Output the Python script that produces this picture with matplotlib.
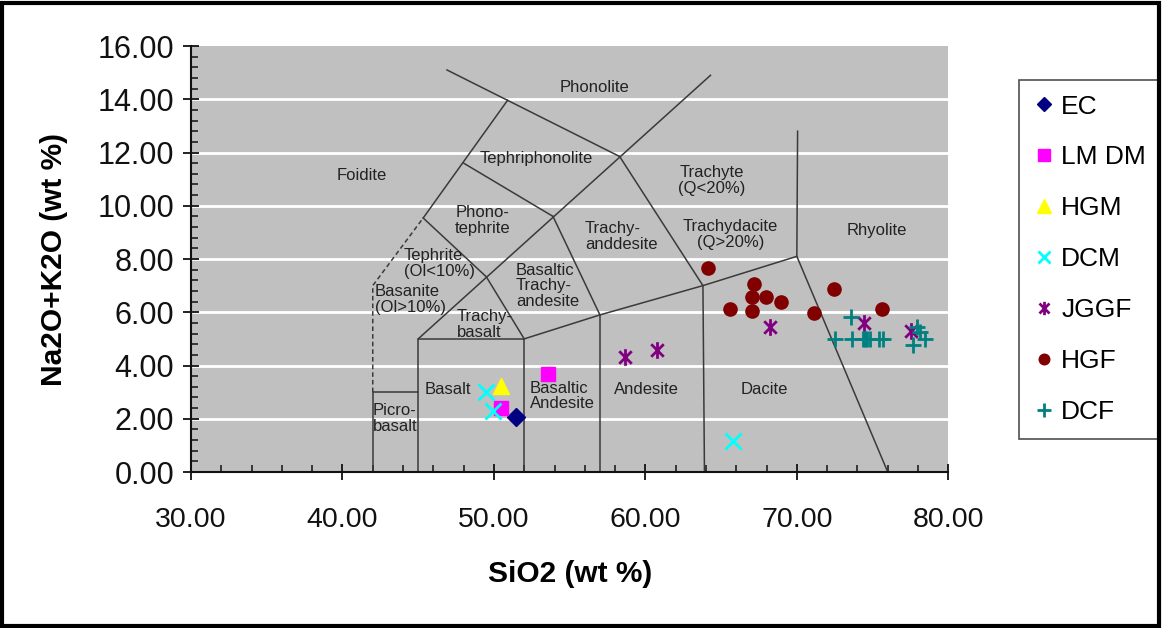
import matplotlib
matplotlib.use("Agg")
import matplotlib.pyplot as plt
from matplotlib.path import Path
from matplotlib.patches import Rectangle
from matplotlib.ticker import MultipleLocator, FormatStrFormatter

plt.rcParams['font.family'] = ['Liberation Sans', 'DejaVu Sans']

# ---------------- data ----------------
ec_x = [51.45]
ec_y = [2.08]
lmdm_x = [50.5, 53.55]
lmdm_y = [2.4, 3.68]
hgm_x = [50.45]
hgm_y = [3.22]
dcm_x = [49.5, 49.95, 65.8]
dcm_y = [3.0, 2.3, 1.18]
jggf_x = [58.65, 60.77, 68.23, 74.45, 77.55]
jggf_y = [4.32, 4.59, 5.46, 5.61, 5.30]
hgf_x = [64.15, 67.17, 67.02, 67.96, 68.93, 65.59, 67.02, 72.43, 71.15, 75.65]
hgf_y = [7.67, 7.07, 6.59, 6.59, 6.40, 6.12, 6.03, 6.87, 5.97, 6.12]
dcf_x = [73.6, 72.52, 73.62, 74.35, 74.5, 74.64, 74.84, 75.44, 75.71, 77.95, 78.13, 77.69, 78.46]
dcf_y = [5.83, 5.0, 5.0, 5.0, 5.0, 5.0, 5.0, 5.0, 5.0, 5.44, 5.27, 4.77, 4.99]

# TAS field boundaries
solid_lines = [
    [(42, 0), (42, 3), (45, 3)],
    [(45, 0), (45, 5), (52, 5), (52, 0)],
    [(57, 0), (57, 5.9)],
    [(63.9, 0), (63.8, 7.0)],
    [(52, 5), (57, 5.9), (63.8, 7.0), (70, 8.1), (76, 0)],
    [(70, 8.1), (70.05, 12.8)],
    [(45, 5), (64.3, 14.9)],
    [(46.9, 15.1), (58.3, 11.85)],
    [(50.9, 13.96), (45.33, 9.54)],
    [(48, 11.6), (53.9, 9.6)],
    [(45.33, 9.54), (49.5, 7.33), (52, 5)],
    [(53.9, 9.6), (57, 5.9)],
    [(58.3, 11.85), (63.8, 7.0)],
]
dashed_lines = [
    [(42, 3), (42, 7), (45.33, 9.54)],
]

field_labels = [
    ("Phonolite", 56.61, 14.44, 'center'),
    ("Tephriphonolite", 52.82, 11.77, 'center'),
    ("Foidite", 41.29, 11.13, 'center'),
    ("Phono-\ntephrite", 49.28, 9.44, 'center'),
    ("Tephrite\n(Ol<10%)", 44.06, 7.82, 'left'),
    ("Basanite\n(Ol>10%)", 42.15, 6.47, 'left'),
    ("Trachy-\nbasalt", 47.54, 5.55, 'left'),
    ("Basaltic\nTrachy-\nandesite", 51.46, 6.99, 'left'),
    ("Trachy-\nanddesite", 56.01, 8.84, 'left'),
    ("Trachyte\n(Q<20%)", 64.40, 10.95, 'center'),
    ("Trachydacite\n(Q>20%)", 65.63, 8.92, 'center'),
    ("Rhyolite", 75.27, 9.06, 'center'),
    ("Basalt", 46.94, 3.11, 'center'),
    ("Picro-\nbasalt", 42.0, 2.0, 'left'),
    ("Basaltic\nAndesite", 52.38, 2.85, 'left'),
    ("Andesite", 60.04, 3.08, 'center'),
    ("Dacite", 67.88, 3.08, 'center'),
]

x_ticks = [30, 40, 50, 60, 70, 80]
y_ticks = [0, 2, 4, 6, 8, 10, 12, 14, 16]

# ---------------- figure ----------------
fig = plt.figure(figsize=(11.64, 6.28), dpi=100)
fig.patch.set_facecolor('white')
ax = fig.add_axes([191 / 1164, 1 - 472 / 628, (948.3 - 191) / 1164, (472 - 46) / 628])
ax.set_facecolor('#C0C0C0')
ax.set_xlim(30, 80)
ax.set_ylim(0, 16)

for yv in y_ticks[1:-1]:
    ax.axhline(yv, color='white', lw=2.0, zorder=1)

line_col = '#3a3a3a'
for seg in solid_lines:
    xs, ys = zip(*seg)
    ax.plot(xs, ys, color=line_col, lw=1.1, zorder=2)
for seg in dashed_lines:
    xs, ys = zip(*seg)
    ax.plot(xs, ys, color=line_col, lw=1.1, ls=(0, (3, 2)), zorder=2)

for txt, x, y, ha in field_labels:
    ax.text(x, y, txt, ha=ha, va='center', fontsize=12, color='#222222',
            linespacing=1.05, zorder=3)

# star marker (Excel style asterisk)
star = Path([(0, -1), (0, 1), (-0.75, -0.75), (0.75, 0.75), (-0.75, 0.75), (0.75, -0.75)],
            [Path.MOVETO, Path.LINETO, Path.MOVETO, Path.LINETO, Path.MOVETO, Path.LINETO])

ax.plot(ec_x, ec_y, ls='none', marker='D', ms=9, color='#000080', label='EC', zorder=5)
ax.plot(lmdm_x, lmdm_y, ls='none', marker='s', ms=10, color='#FF00FF', label='LM DM', zorder=5)
ax.plot(hgm_x, hgm_y, ls='none', marker='^', ms=12, color='#FFFF00', label='HGM', zorder=5)
ax.plot(dcm_x, dcm_y, ls='none', marker='x', ms=11, mew=2, color='#00FFFF', label='DCM', zorder=5)
ax.plot(jggf_x, jggf_y, ls='none', marker=star, ms=12, mew=2, color='#800080',
        markerfacecolor='none', label='JGGF', zorder=5)
ax.plot(hgf_x, hgf_y, ls='none', marker='o', ms=9.5, color='#800000', label='HGF', zorder=5)
ax.plot(dcf_x, dcf_y, ls='none', marker='+', ms=12, mew=2, color='#008080', label='DCF', zorder=5)

# axes styling
for s in ['top', 'right']:
    ax.spines[s].set_visible(False)
for s in ['left', 'bottom']:
    ax.spines[s].set_linewidth(1.5)
    ax.spines[s].set_color('#111111')

ax.set_xticks(x_ticks)
ax.set_yticks(y_ticks)
ax.xaxis.set_minor_locator(MultipleLocator(2))
ax.yaxis.set_minor_locator(MultipleLocator(0.4))
ax.xaxis.set_major_formatter(FormatStrFormatter('%.2f'))
ax.yaxis.set_major_formatter(FormatStrFormatter('%.2f'))
ax.tick_params(which='major', direction='inout', length=12, width=1.3, colors='#111111')
ax.tick_params(axis='x', which='major', pad=19, labelsize=20.5)
ax.tick_params(axis='y', which='major', pad=6, labelsize=22)
ax.tick_params(which='minor', direction='in', length=5, width=1.1, colors='#111111')

ax.set_xlabel('SiO2 (wt %)', fontsize=21.5, fontweight='bold', labelpad=20)
ax.set_ylabel('Na2O+K2O (wt %)', fontsize=21.5, fontweight='bold', labelpad=21)

leg = fig.legend(loc='upper left', bbox_to_anchor=(1019 / 1164, 1 - 80 / 628),
                 frameon=True, fancybox=False, fontsize=19, handlelength=0.8,
                 handletextpad=0.25, labelspacing=1.02, borderpad=0.55,
                 borderaxespad=0, markerscale=0.8)
leg.get_frame().set_edgecolor('#222222')
leg.get_frame().set_linewidth(1.2)

fig.patches.append(Rectangle((0.002, 0.003), 0.994, 0.993, transform=fig.transFigure,
                             fill=False, lw=3, ec='black', zorder=10))

fig.savefig('out.png', dpi=100)
